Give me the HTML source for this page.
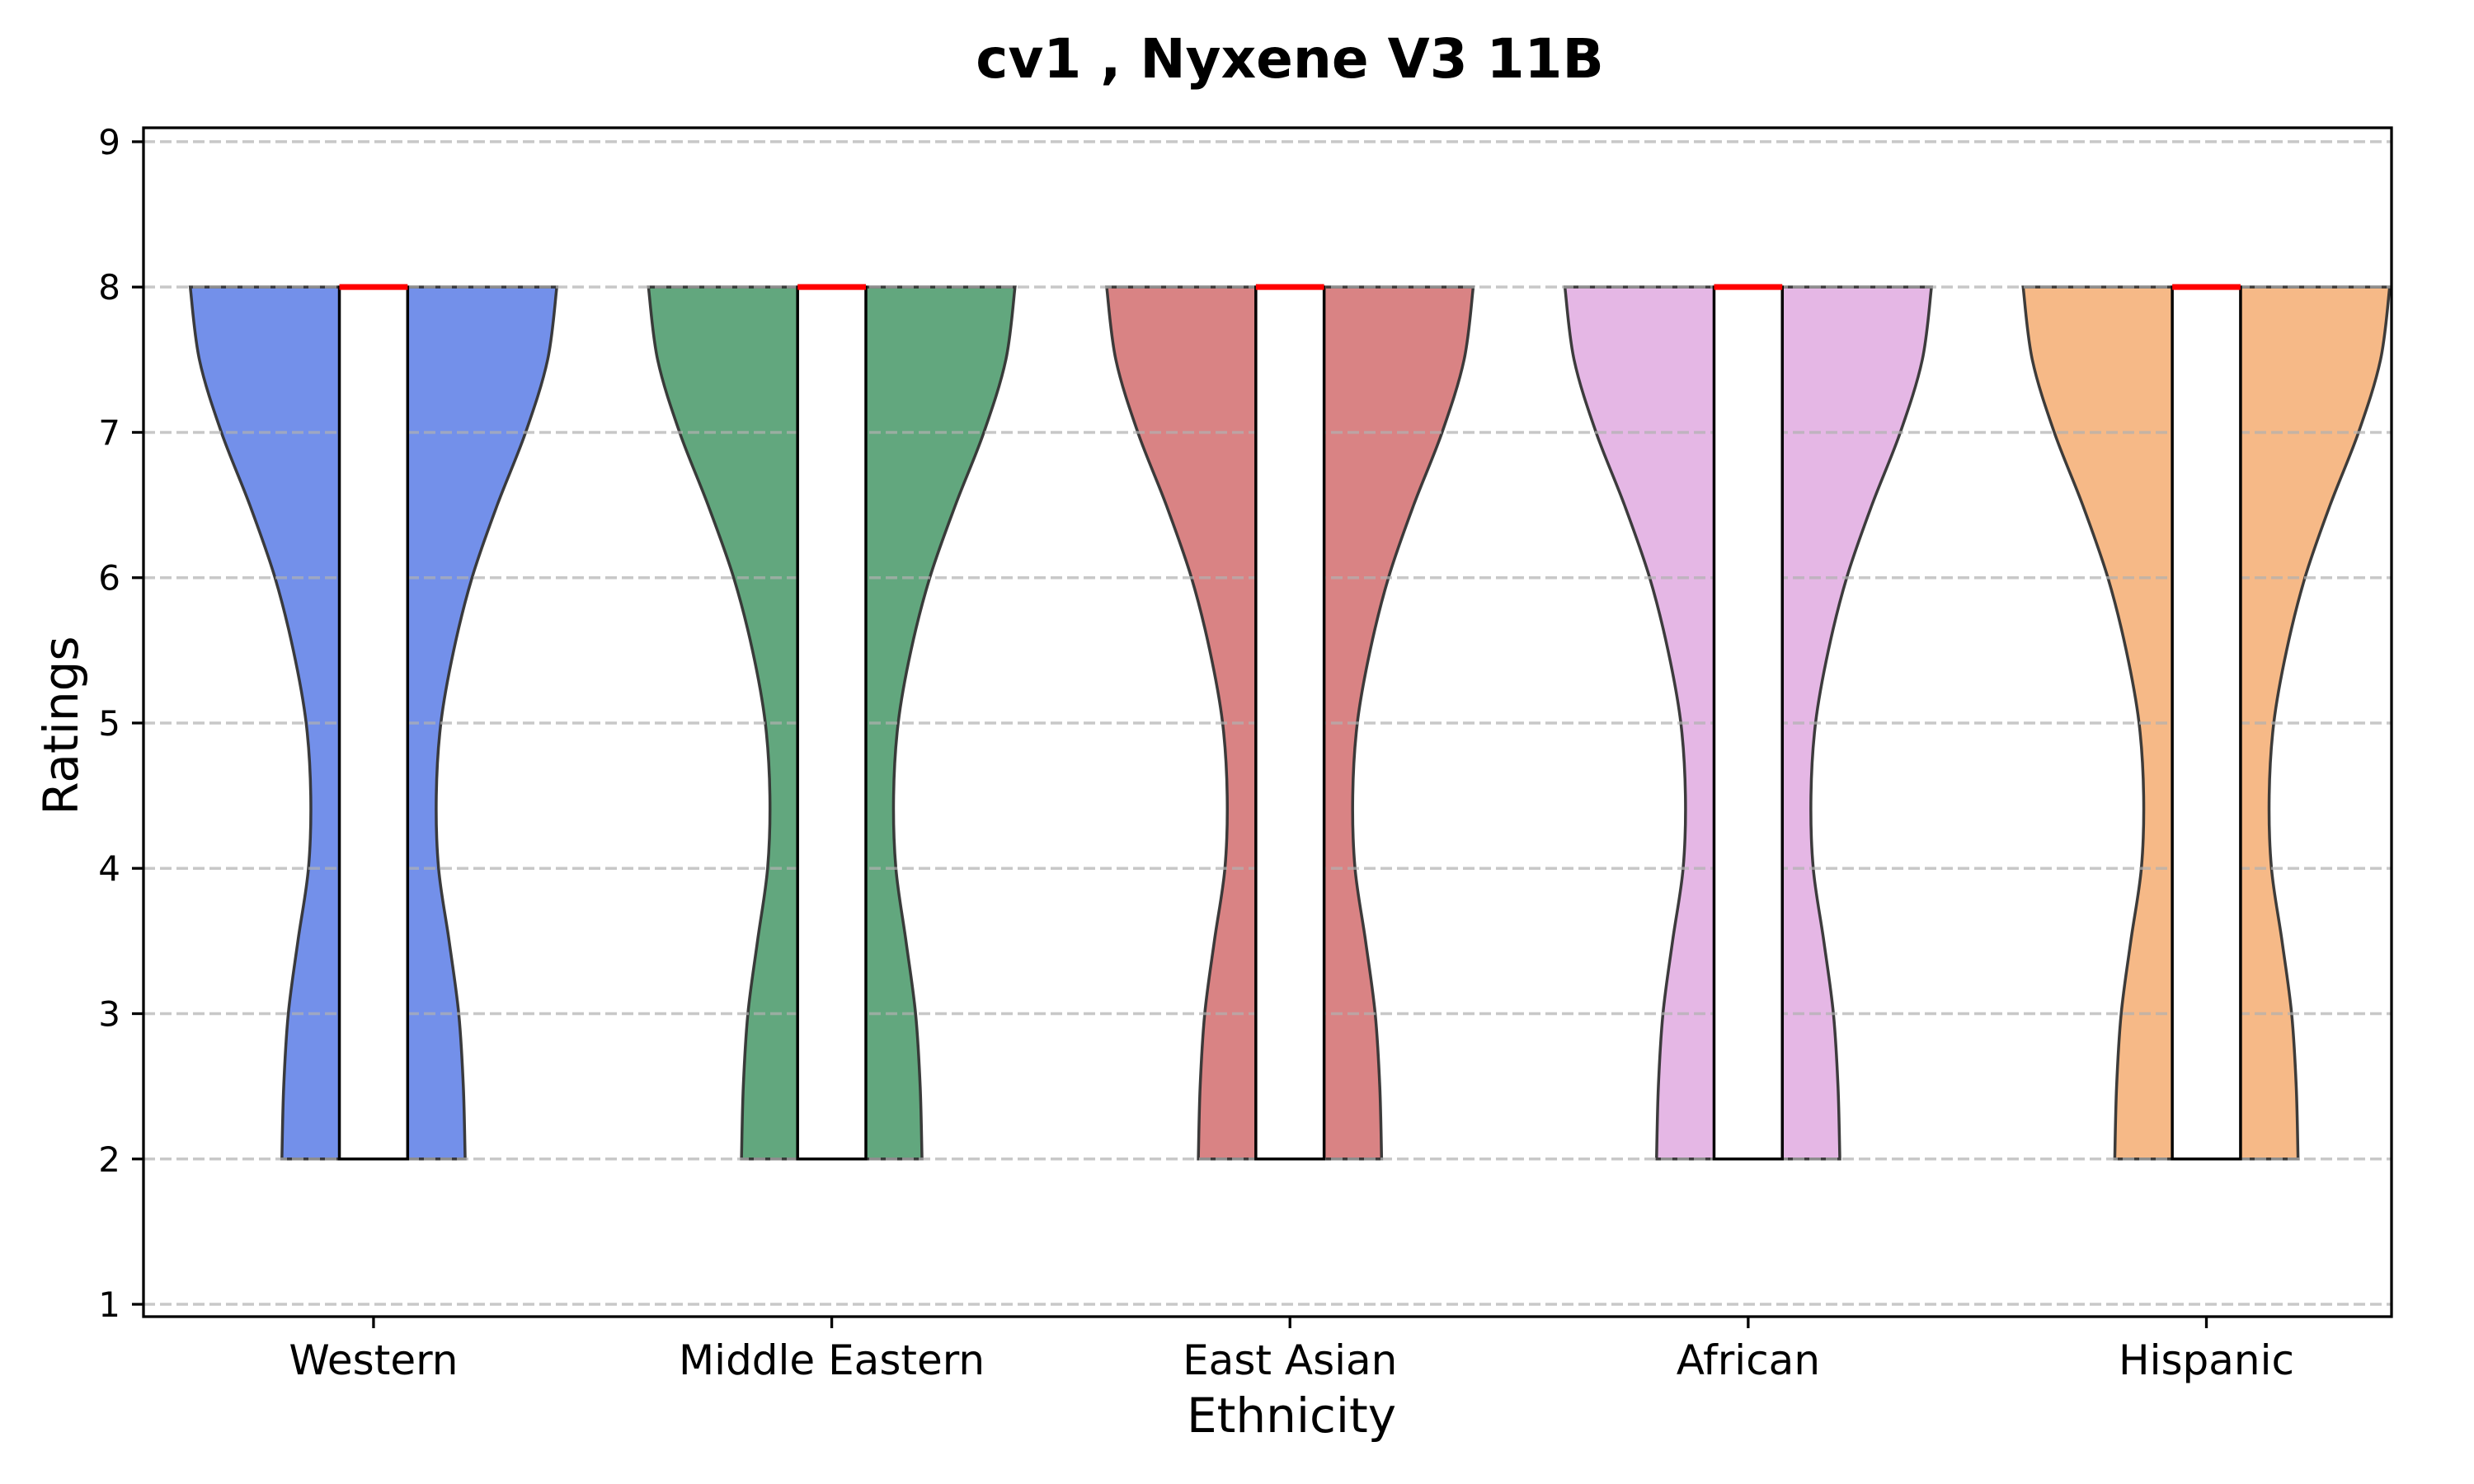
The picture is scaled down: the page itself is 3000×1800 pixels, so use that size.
<!DOCTYPE html>
<html><head><meta charset="utf-8"><style>
html,body{margin:0;padding:0;background:#fff;}
svg{display:block;font-family:"DejaVu Sans","Liberation Sans",sans-serif;}
</style></head><body>
<svg id="chart" width="3000" height="1800" viewBox="0 0 3000 1800" xmlns="http://www.w3.org/2000/svg">
<rect x="0" y="0" width="3000" height="1800" fill="#fff"/>
<text x="1564" y="94" text-anchor="middle" font-size="66" font-weight="bold">cv1 , Nyxene V3 11B</text>
<g id="violins"></g>
<g id="grid"></g>
<g id="boxes"></g>
<g id="axes"></g>
<text x="1566" y="1737" text-anchor="middle" font-size="58">Ethnicity</text>
<text transform="translate(94,880) rotate(-90)" text-anchor="middle" font-size="58">Ratings</text>
</svg>
<script>
const categories = ["Western","Middle Eastern","East Asian","African","Hispanic"];
const colors = ["#7390ea","#62a77e","#d98384","#e5b7e5","#f6b987"];
const densityLevels = [2,2.5,3,3.5,4,4.5,5,5.5,6,6.5,7,7.5,8];
const widthsWestern = [0.2,0.196,0.186,0.165,0.142,0.137,0.147,0.175,0.215,0.27,0.332,0.38,0.4];
const widthsMiddleEastern = [0.197,0.193,0.183,0.162,0.14,0.135,0.145,0.173,0.214,0.27,0.332,0.38,0.4];
const widthsEastAsian = [0.2,0.196,0.186,0.165,0.142,0.137,0.147,0.175,0.215,0.27,0.332,0.38,0.4];
const widthsAfrican = [0.2,0.196,0.186,0.165,0.142,0.137,0.147,0.175,0.215,0.27,0.332,0.38,0.4];
const widthsHispanic = [0.2,0.196,0.186,0.165,0.142,0.137,0.147,0.175,0.215,0.27,0.332,0.38,0.4];
const violinWidths = [widthsWestern,widthsMiddleEastern,widthsEastAsian,widthsAfrican,widthsHispanic];
const boxLow = [2,2,2,2,2];
const boxHigh = [8,8,8,8,8];
const medians = [8,8,8,8,8];
const yTicks = [1,2,3,4,5,6,7,8,9];

const NS="http://www.w3.org/2000/svg";
const L=174,R=2900,T=155,B=1597;
const xMin=-0.502,xMax=4.404,yMin=0.915,yMax=9.096;
const xs=v=>L+(v-xMin)/(xMax-xMin)*(R-L);
const ys=v=>B-(v-yMin)/(yMax-yMin)*(B-T);
const ux=(R-L)/(xMax-xMin);
function mk(tag,attrs,parent){const e=document.createElementNS(NS,tag);for(const k in attrs)e.setAttribute(k,attrs[k]);parent.appendChild(e);return e;}

function smooth(pts){
  let d="M"+pts[0][0]+","+pts[0][1];
  for(let i=0;i<pts.length-1;i++){
    const p0=pts[Math.max(0,i-1)],p1=pts[i],p2=pts[i+1],p3=pts[Math.min(pts.length-1,i+2)];
    const c1=[p1[0]+(p2[0]-p0[0])/6,p1[1]+(p2[1]-p0[1])/6];
    const c2=[p2[0]-(p3[0]-p1[0])/6,p2[1]-(p3[1]-p1[1])/6];
    d+=" C"+c1[0]+","+c1[1]+" "+c2[0]+","+c2[1]+" "+p2[0]+","+p2[1];
  }
  return d;
}

const gv=document.getElementById("violins");
categories.forEach((c,i)=>{
  const cx=xs(i);
  const right=densityLevels.map((v,j)=>[cx+violinWidths[i][j]*ux,ys(v)]);
  const left=densityLevels.map((v,j)=>[cx-violinWidths[i][j]*ux,ys(v)]).reverse();
  let d=smooth(right)+" L"+left[0][0]+","+left[0][1]+smooth(left).replace(/^M[^ ]+/,"")+" Z";
  const p=mk("path",{d:d,fill:colors[i],stroke:"#333","stroke-width":3.5,"stroke-opacity":0.95},gv);
  
  
});

const gg=document.getElementById("grid");
yTicks.forEach(t=>{
  const l=mk("line",{x1:L,x2:R,y1:ys(t),y2:ys(t),stroke:"#b0b0b0","stroke-opacity":0.7,"stroke-width":3.5,"stroke-dasharray":"14,6"},gg);
  
  
});

const gb=document.getElementById("boxes");
const hw=0.0745*ux;
categories.forEach((c,i)=>{
  const cx=xs(i);
  const r=mk("rect",{x:cx-hw,y:ys(boxHigh[i]),width:2*hw,height:ys(boxLow[i])-ys(boxHigh[i]),fill:"#fff",stroke:"#000","stroke-width":3.5},gb);
  
  
  const m=mk("line",{x1:cx-hw,x2:cx+hw,y1:ys(medians[i]),y2:ys(medians[i]),stroke:"#ff0000","stroke-width":7},gb);
  
  
});

const ga=document.getElementById("axes");
const fr=mk("rect",{x:L,y:T,width:R-L,height:B-T,fill:"none",stroke:"#000","stroke-width":3.3},ga);


yTicks.forEach(t=>{
  const tk=mk("line",{x1:L-14,x2:L,y1:ys(t),y2:ys(t),stroke:"#000","stroke-width":3.3},ga);
  
  
  const tx=mk("text",{x:L-28,y:ys(t)+15,"text-anchor":"end","font-size":42},ga);
  tx.textContent=t;
  
  
});
categories.forEach((c,i)=>{
  const tk=mk("line",{x1:xs(i),x2:xs(i),y1:B,y2:B+14,stroke:"#000","stroke-width":3.3},ga);
  
  
  const tx=mk("text",{x:xs(i),y:1667,"text-anchor":"middle","font-size":50},ga);
  tx.textContent=c;
  
  
});
</script>
</body></html>
